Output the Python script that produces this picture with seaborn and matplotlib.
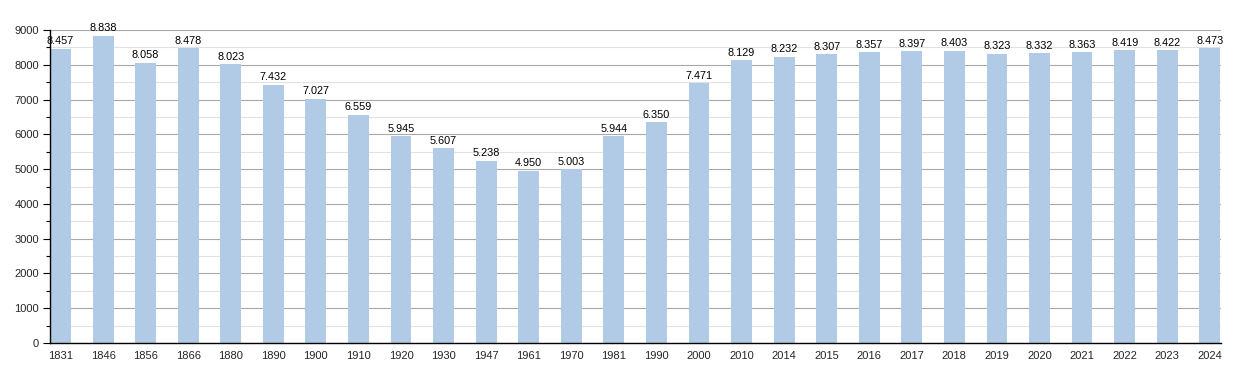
import pandas as pd
import matplotlib
matplotlib.use("Agg")
import matplotlib.pyplot as plt
import seaborn as sns
from matplotlib.ticker import MultipleLocator

years = ["1831", "1846", "1856", "1866", "1880", "1890", "1900", "1910", "1920",
         "1930", "1947", "1961", "1970", "1981", "1990", "2000", "2010", "2014",
         "2015", "2016", "2017", "2018", "2019", "2020", "2021", "2022", "2023", "2024"]
population = [8457, 8838, 8058, 8478, 8023, 7432, 7027, 6559, 5945, 5607, 5238,
              4950, 5003, 5944, 6350, 7471, 8129, 8232, 8307, 8357, 8397, 8403,
              8323, 8332, 8363, 8419, 8422, 8473]

df = pd.DataFrame({"Year": years, "Population": population})

sns.set_style("white")
plt.rcParams["font.family"] = ["Liberation Sans", "DejaVu Sans"]

fig = plt.figure(figsize=(12.5, 3.73), dpi=100)
ax = fig.add_axes([0.04, 0.0804, 0.937, 0.8392])

sns.barplot(data=df, x="Year", y="Population", color="#b1cbe6", saturation=1,
            width=0.49, linewidth=0, ax=ax, zorder=2)

# value labels with dot as thousands separator
for i, v in enumerate(population):
    ax.text(i, v + 70, f"{v:,}".replace(",", "."), ha="center", va="bottom",
            fontsize=7.8, color="black", zorder=3)

ax.set_ylim(0, 9000)
ax.set_xlim(-0.247, 27.27)
ax.yaxis.set_major_locator(MultipleLocator(1000))
ax.yaxis.set_minor_locator(MultipleLocator(500))
ax.grid(axis="y", which="major", color="#a8a8a8", linewidth=0.8, zorder=0)
ax.grid(axis="y", which="minor", color="#e2e2e2", linewidth=0.8, zorder=0)
ax.set_axisbelow(True)

for s in ["top", "right"]:
    ax.spines[s].set_visible(False)
ax.spines["left"].set_color("black")
ax.spines["bottom"].set_color("black")
ax.spines["left"].set_linewidth(1.0)
ax.spines["bottom"].set_linewidth(1.0)

ax.tick_params(axis="y", which="major", left=True, length=5, width=0.8,
               color="black", labelsize=8, pad=3)
ax.tick_params(axis="y", which="minor", left=True, length=3, width=0.8, color="black")
ax.tick_params(axis="x", bottom=False, labelsize=8, pad=2)

ax.set_xlabel("")
ax.set_ylabel("")

fig.savefig("out.png", dpi=100)
